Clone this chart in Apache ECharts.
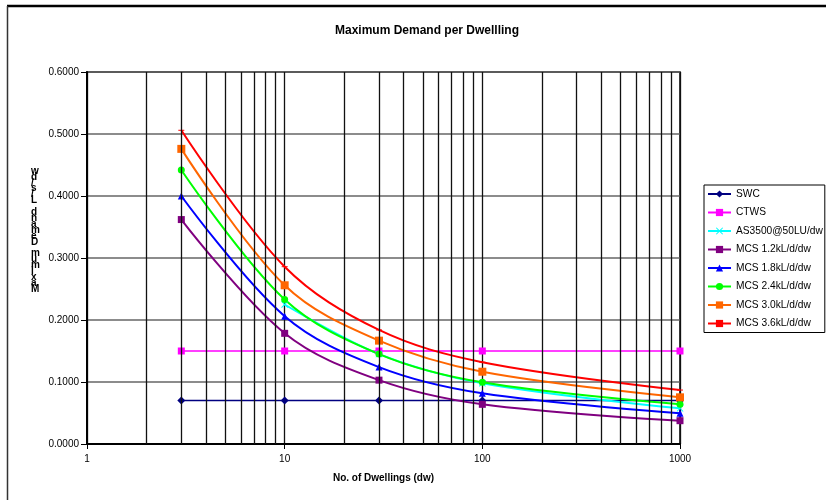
<!DOCTYPE html>
<html>
<head>
<meta charset="utf-8">
<script src="https://cdn.jsdelivr.net/npm/echarts@6/dist/echarts.min.js"></script>
<style>
html,body{margin:0;padding:0;background:#fff;}
#chart{width:826px;height:500px;}
</style>
</head>
<body>
<div id="chart"></div>
<script>
const dwellings = [3, 10, 30, 100, 1000];
const swc    = [0.070, 0.070, 0.070, 0.070, 0.070];
const ctws   = [0.150, 0.150, 0.150, 0.150, 0.150];
const as3500 = [null, 0.225, 0.145, 0.098, 0.0575];
const mcs12  = [0.362, 0.1785, 0.103, 0.064, 0.0376];
const mcs18  = [0.400, 0.206, 0.124, 0.0817, 0.0495];
const mcs24  = [0.442, 0.233, 0.145, 0.0995, 0.064];
const mcs30  = [0.476, 0.256, 0.1667, 0.1166, 0.0753];
const mcs36  = [0.506, 0.286, 0.184, 0.132, 0.087];
const minorGrid = [2,3,4,5,6,7,8,9,20,30,40,50,60,70,80,90,200,300,400,500,600,700,800,900];
const yTitle = 'Maximum Demand L/s/dw';

const FONT = '"Liberation Sans", Arial, sans-serif';
const pairs = arr => dwellings.map((x, i) => [x, arr[i]]);
const crossPath = 'path://M0,1L1,0L5,4L9,0L10,1L6,5L10,9L9,10L5,6L1,10L0,9L4,5Z';
const dashPath = 'path://M0,0L10,0L10,4L0,4Z';

function mk(name, arr, color, symbol, size, width, smooth) {
  return {
    name: name, type: 'line', data: pairs(arr),
    smooth: smooth ? 0.35 : false,
    symbol: symbol, symbolSize: size, showSymbol: true, symbolKeepAspect: true,
    connectNulls: false,
    lineStyle: { color: color, width: width },
    itemStyle: { color: color },
    emphasis: { disabled: true },
    animation: false, z: 3
  };
}

const chart = echarts.init(document.getElementById('chart'), null, { renderer: 'canvas' });
chart.setOption({
  animation: false,
  backgroundColor: '#fff',
  textStyle: { fontFamily: FONT },
  title: {
    text: 'Maximum Demand per Dwellling',
    left: 422, top: 20, textAlign: 'center',
    textStyle: { fontFamily: FONT, fontSize: 12, fontWeight: 'bold', color: '#000' }
  },
  grid: {
    left: 87, right: 146, top: 72, bottom: 56,
    show: true, borderColor: '#000', borderWidth: 1.5, backgroundColor: 'transparent'
  },
  legend: {
    orient: 'vertical', left: 704, top: 185,
    data: ['SWC','CTWS','AS3500@50LU/dw','MCS 1.2kL/d/dw','MCS 1.8kL/d/dw','MCS 2.4kL/d/dw','MCS 3.0kL/d/dw','MCS 3.6kL/d/dw'],
    borderColor: '#000', borderWidth: 1, borderRadius: 0,
    padding: [3, 2, 3, 3],
    itemGap: 6.5, itemWidth: 23, itemHeight: 9,
    textStyle: { fontFamily: FONT, fontSize: 10.2, lineHeight: 12, color: '#000' },
    selectedMode: false
  },
  xAxis: {
    type: 'log', logBase: 10, min: 1, max: 1000,
    name: 'No. of Dwellings (dw)', nameLocation: 'middle', nameGap: 29,
    nameTextStyle: { fontFamily: FONT, fontSize: 10, fontWeight: 'bold', color: '#000' },
    axisLine: { show: true, onZero: false, lineStyle: { color: '#000', width: 2 } },
    axisTick: { show: true, inside: false, length: 5, lineStyle: { color: '#000', width: 1 } },
    axisLabel: { fontFamily: FONT, fontSize: 10, color: '#000', margin: 10,
      formatter: v => String(Math.round(v)) },
    splitLine: { show: true, lineStyle: { color: '#111', width: 1.3 } }
  },
  yAxis: {
    type: 'value', min: 0, max: 0.6, interval: 0.1,
    axisLine: { show: true, lineStyle: { color: '#000', width: 2 } },
    axisTick: { show: true, inside: false, length: 6, lineStyle: { color: '#000', width: 1 } },
    axisLabel: { fontFamily: FONT, fontSize: 10, color: '#000', margin: 8,
      formatter: v => v.toFixed(4) },
    splitLine: { show: true, lineStyle: { color: '#666', width: 1.6 } }
  },
  graphic: [
    { type: 'line', shape: { x1: 7, y1: 6, x2: 826, y2: 6 }, style: { stroke: '#000', lineWidth: 2.5 }, silent: true },
    { type: 'line', shape: { x1: 7.5, y1: 6, x2: 7.5, y2: 500 }, style: { stroke: '#333', lineWidth: 1.5 }, silent: true },
    { type: 'text', left: 31, top: 166, silent: true,
      style: { text: yTitle.split('').reverse().join('\n'), font: 'bold 10px ' + FONT,
        fill: '#000', lineHeight: 5.9, align: 'center' } }
  ],
  series: [
    {
      name: 'grid', type: 'line', data: [], silent: true, z: 1,
      markLine: {
        silent: true, symbol: ['none', 'none'], animation: false,
        label: { show: false },
        lineStyle: { color: '#111', width: 1.3, type: 'solid' },
        emphasis: { disabled: true },
        data: minorGrid.map(v => ({ xAxis: v }))
      }
    },
    mk('SWC', swc, '#000080', 'diamond', 8, 1.5, false),
    mk('CTWS', ctws, '#FF00FF', 'rect', 7, 1.5, false),
    mk('AS3500@50LU/dw', as3500, '#00FFFF', crossPath, 7, 2, true),
    mk('MCS 1.2kL/d/dw', mcs12, '#800080', 'rect', 7, 2, true),
    mk('MCS 1.8kL/d/dw', mcs18, '#0000FF', 'triangle', 7, 2, true),
    mk('MCS 2.4kL/d/dw', mcs24, '#00FF00', 'circle', 7, 2, true),
    mk('MCS 3.0kL/d/dw', mcs30, '#FF6600', 'rect', 8, 2, true),
    mk('MCS 3.6kL/d/dw', mcs36, '#FF0000', dashPath, [6, 2.5], 2, true)
  ]
});
</script>
</body>
</html>
